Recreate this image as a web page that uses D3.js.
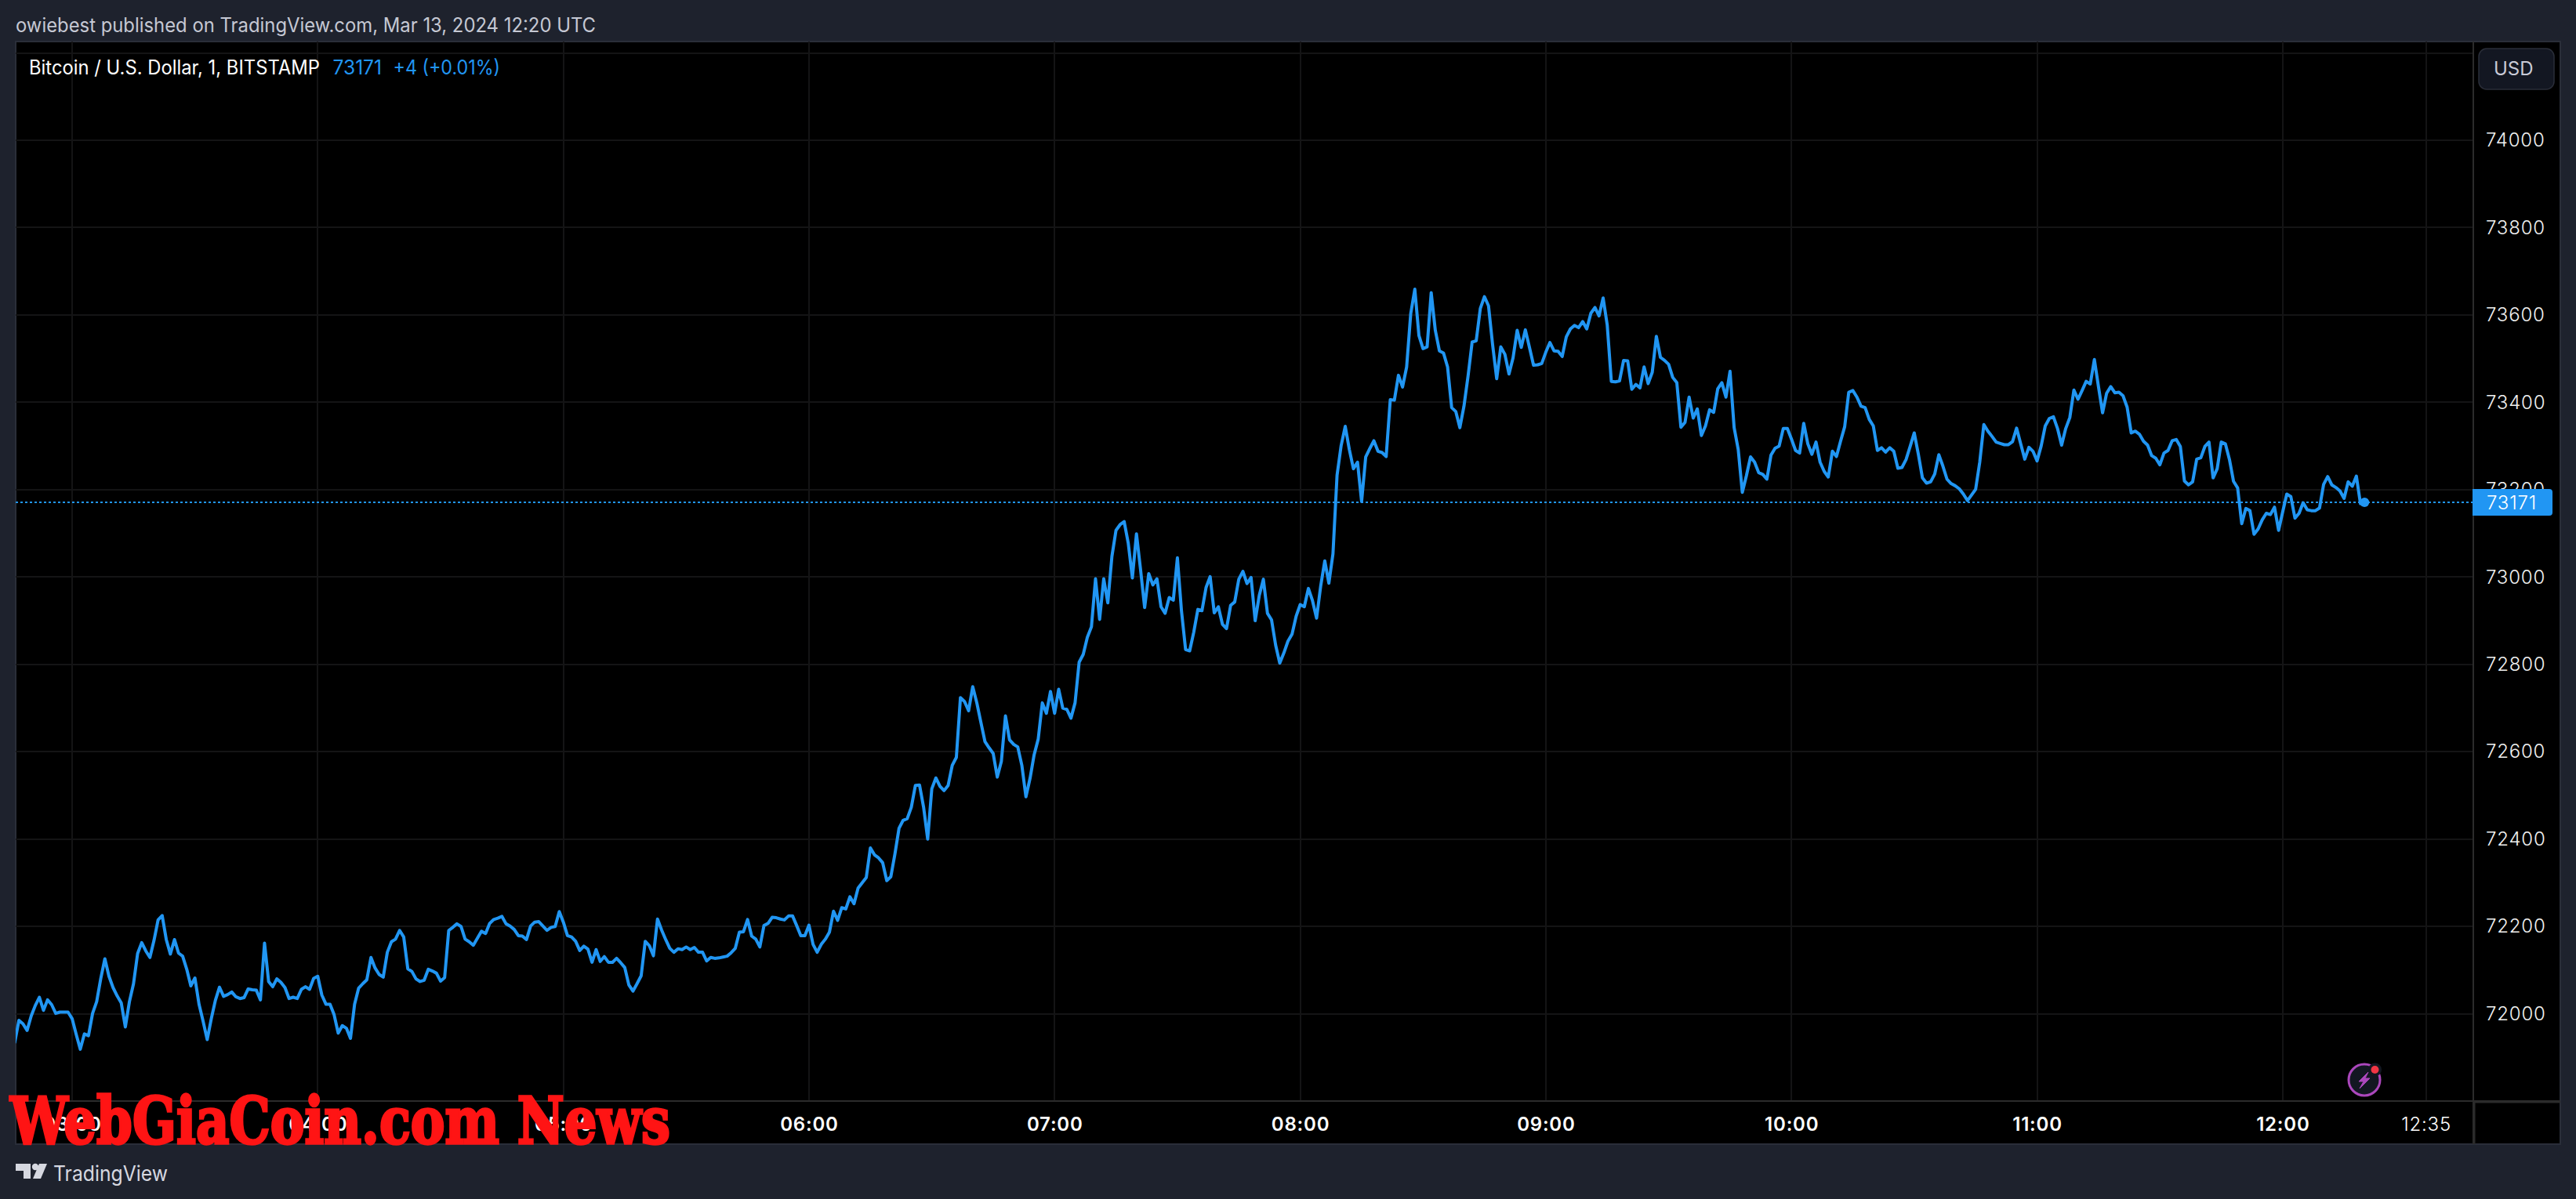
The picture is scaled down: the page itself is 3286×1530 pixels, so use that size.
<!DOCTYPE html>
<html>
<head>
<meta charset="utf-8">
<script src="https://cdn.jsdelivr.net/npm/d3@7"></script>
<style>
html,body{margin:0;padding:0;background:#1e222d;width:3286px;height:1530px;overflow:hidden}
svg{display:block}
text{font-family:Inter,"Open Sans",sans-serif}
</style>
</head>
<body>
<svg id="chart" width="3286" height="1530"></svg>
<script>
const symbolName = "Bitcoin / U.S. Dollar, 1, BITSTAMP";
const lastPriceLabel = "73171";
const changeLabel = "+4 (+0.01%)";
const publisherLine = "owiebest published on TradingView.com, Mar 13, 2024 12:20 UTC";
const seriesStart = "2024-03-13T02:46:00Z";
const priceLabels = [72000,72200,72400,72600,72800,73000,73200,73400,73600,73800,74000];
const priceGrid = [72000,72200,72400,72600,72800,73000,73200,73400,73600,73800,74000,74200];
const timeLabels = ["03:00","04:00","05:00","06:00","07:00","08:00","09:00","10:00","11:00","12:00"];
const cursorTime = "12:35";
// one close per minute, 02:46 to 12:20 UTC
const prices = [
71935,71985,71977,71962,71995,72019,72038,72008,72032,72021,72001,72004,72004,72004,
71989,71953,71919,71954,71950,72001,72028,72081,72126,72086,72060,72041,72025,71970,72028,72069,
72138,72163,72144,72129,72168,72215,72225,72170,72137,72170,72139,72132,72102,72064,72082,
72022,71983,71941,71989,72031,72061,72040,72044,72050,72039,72035,72037,72057,72055,72054,
72032,72162,72074,72062,72080,72072,72060,72035,72038,72035,72056,72062,72056,72081,
72086,72043,72022,72022,71998,71956,71973,71967,71944,72022,72059,72069,72078,72129,72105,
72090,72084,72141,72165,72171,72191,72176,72103,72097,72080,72074,72077,72102,72098,72093,
72075,72083,72191,72198,72206,72200,72171,72165,72157,72173,72189,72184,72207,72216,72219,
72223,72206,72201,72193,72179,72178,72170,72201,72210,72211,72201,72191,72198,72200,72234,
72210,72179,72176,72166,72145,72155,72148,72118,72147,72120,72131,72118,72118,72127,72117,
72106,72066,72052,72069,72087,72166,72156,72133,72217,72192,72170,72150,72141,72149,72147,
72153,72147,72152,72141,72141,72121,72129,72127,72128,72130,72132,72140,72150,72187,72188,
72216,72178,72171,72153,72202,72207,72221,72220,72217,72215,72224,72224,72202,72179,72179,
72203,72159,72141,72159,72171,72187,72235,72214,72243,72240,72268,72252,72288,72300,72312,
72380,72364,72357,72346,72305,72314,72366,72425,72443,72447,72473,72523,72524,72473,72400,
72515,72540,72521,72511,72523,72569,72587,72724,72715,72694,72749,72712,72667,72623,72609,
72596,72542,72578,72682,72627,72617,72611,72569,72497,72539,72593,72629,72712,72688,72738,
72688,72743,72700,72697,72677,72712,72805,72823,72862,72886,72996,72903,72996,72941,73047,
73107,73120,73127,73077,72998,73099,73017,72930,73008,72982,72996,72932,72917,72953,72947,
73044,72922,72834,72831,72874,72926,72923,72976,73001,72918,72932,72892,72882,72935,72943,
72995,73013,72985,72999,72900,72958,72995,72917,72902,72844,72803,72826,72853,72869,72910,
72937,72932,72974,72946,72906,72979,73037,72986,73053,73233,73301,73345,73292,73248,73263,
73173,73275,73294,73312,73288,73285,73276,73406,73405,73462,73435,73481,73603,73659,73553,
73523,73527,73651,73565,73518,73513,73481,73388,73379,73342,73391,73460,73538,73541,73615,
73642,73621,73532,73454,73527,73510,73465,73502,73565,73526,73566,73526,73485,73486,73489,
73515,73537,73518,73517,73505,73550,73568,73576,73571,73585,73568,73604,73617,73598,73639,
73577,73448,73447,73449,73496,73495,73430,73441,73433,73481,73443,73469,73551,73503,73496,
73487,73457,73445,73343,73354,73412,73364,73385,73324,73346,73383,73377,73431,73445,73412,
73471,73342,73292,73194,73232,73275,73263,73239,73235,73224,73279,73295,73300,73340,73340,
73316,73290,73284,73352,73305,73281,73309,73263,73242,73229,73288,73276,73311,73344,73423,
73427,73412,73391,73388,73361,73346,73290,73296,73286,73296,73288,73249,73251,73269,73299,
73330,73281,73227,73215,73218,73236,73280,73254,73224,73214,73209,73202,73190,73175,73188,
73201,73263,73349,73334,73322,73309,73306,73303,73303,73310,73341,73305,73270,73297,73288,
73266,73300,73346,73363,73367,73340,73302,73340,73365,73428,73407,73427,73448,73442,73498,
73436,73376,73421,73436,73422,73423,73415,73389,73330,73334,73327,73311,73302,73278,73272,
73257,73284,73290,73312,73315,73299,73220,73211,73218,73270,73273,73299,73309,73227,73248,
73309,73305,73269,73219,73204,73122,73157,73152,73098,73110,73131,73146,73143,73160,73107,
73149,73190,73184,73135,73146,73170,73154,73152,73152,73158,73212,73230,73211,73205,73197,
73180,73218,73208,73231,73168,73171
];

const day = "2024-03-13T";
const toDate = t => new Date(day + t + ":00Z");
const minute = 60000;
const startMs = new Date(seriesStart).getTime();
const points = prices.map((p,i)=>({t:new Date(startMs+i*minute),p}));

const pane = {left:20,top:53,right:3155,bottom:1404};
const outerRight = 3266, outerBottom = 1460;

const x = d3.scaleUtc().domain([toDate("03:00"),toDate("12:35")]).range([92,3094.6]);
const y = d3.scaleLinear().domain([72000,74000]).range([1293.7,179]);

const svg = d3.select("#chart");
svg.append("rect").attr("width",3286).attr("height",1530).attr("fill","#1e222d");
svg.append("rect").attr("x",pane.left).attr("y",pane.top)
   .attr("width",outerRight-pane.left).attr("height",outerBottom-pane.top)
   .attr("fill","#000").attr("stroke","#2a2e39").attr("stroke-width",2);

const defs = svg.append("defs");
defs.append("clipPath").attr("id","paneClip").append("rect")
   .attr("x",pane.left).attr("y",pane.top).attr("width",pane.right-pane.left).attr("height",pane.bottom-pane.top);

// grid
const gridColor = "#141415";
const allTimes = timeLabels.concat([cursorTime]);
svg.append("g").selectAll("line").data(allTimes).join("line")
   .attr("x1",d=>Math.round(x(toDate(d)))).attr("x2",d=>Math.round(x(toDate(d))))
   .attr("y1",pane.top).attr("y2",pane.bottom)
   .attr("stroke",gridColor).attr("stroke-width",2);
svg.append("g").selectAll("line").data(priceGrid).join("line")
   .attr("x1",pane.left).attr("x2",pane.right)
   .attr("y1",d=>Math.round(y(d))).attr("y2",d=>Math.round(y(d)))
   .attr("stroke",gridColor).attr("stroke-width",2);

// axis frames
const axisLine = "#2b2b2b";
svg.append("line").attr("x1",pane.right).attr("x2",pane.right).attr("y1",pane.top).attr("y2",pane.bottom+2).attr("stroke",axisLine).attr("stroke-width",2);
svg.append("line").attr("x1",pane.left).attr("x2",pane.right).attr("y1",pane.bottom+1).attr("y2",pane.bottom+1).attr("stroke",axisLine).attr("stroke-width",2);
svg.append("rect").attr("x",pane.right-1).attr("y",pane.bottom).attr("width",3.5).attr("height",outerBottom-pane.bottom).attr("fill",axisLine);
svg.append("rect").attr("x",pane.right).attr("y",pane.bottom).attr("width",outerRight-pane.right).attr("height",3.5).attr("fill",axisLine);

// price axis
const yAxis = d3.axisRight(y).tickValues(priceLabels).tickSize(0).tickPadding(16).tickFormat(d3.format("d"));
const yG = svg.append("g").attr("transform",`translate(${pane.right},0)`).call(yAxis);
yG.select(".domain").remove();
yG.selectAll("text").attr("fill","#f0f0f0").attr("font-size",24).attr("font-weight",300)
  .attr("letter-spacing",0.8).style("font-family","Inter");

// time axis
const xAxis = d3.axisBottom(x).tickValues(allTimes.map(toDate)).tickSize(0).tickPadding(0).tickFormat(d3.utcFormat("%H:%M"));
const xG = svg.append("g").attr("transform",`translate(0,${pane.bottom})`).call(xAxis);
xG.select(".domain").remove();
xG.selectAll("text").attr("dy",null).attr("y",30).attr("dominant-baseline","central")
  .attr("fill","#fff").attr("font-size",24)
  .attr("font-weight",d=>d3.utcFormat("%H:%M")(d)===cursorTime?300:600)
  .attr("letter-spacing",0.8).style("font-family","Inter");

// series
const line = d3.line().x(d=>x(d.t)).y(d=>y(d.p)).curve(d3.curveLinear);
const last = points[points.length-1];
const plot = svg.append("g").attr("clip-path","url(#paneClip)");
plot.append("line").attr("x1",pane.left).attr("x2",pane.right).attr("y1",y(last.p)).attr("y2",y(last.p))
   .attr("stroke","#2196f3").attr("stroke-width",2).attr("stroke-dasharray","3 3");
plot.append("path").datum(points).attr("d",line).attr("fill","none")
   .attr("stroke","#2196f3").attr("stroke-width",4).attr("stroke-linejoin","round").attr("stroke-linecap","round");
plot.append("circle").attr("cx",x(last.t)).attr("cy",y(last.p)).attr("r",6).attr("fill","#2196f3");

// last price tag
const tagY = y(last.p);
svg.append("path")
   .attr("d",`M${pane.right-1} ${tagY-17}H3252a4 4 0 0 1 4 4V${tagY+13}a4 4 0 0 1 -4 4H${pane.right-1}Z`)
   .attr("fill","#2196f3");
svg.append("text").attr("x",3172).attr("y",tagY).attr("dominant-baseline","central")
   .attr("fill","#fff").attr("font-size",24).attr("font-weight",300).attr("letter-spacing",0.8).text(lastPriceLabel);

// header and legend
svg.append("text").attr("x",20).attr("y",32).attr("dominant-baseline","central").attr("fill","#c5c8d3")
   .attr("font-size",25).attr("textLength",740).attr("lengthAdjust","spacingAndGlyphs").text(publisherLine);
svg.append("text").attr("x",37).attr("y",86).attr("dominant-baseline","central").attr("fill","#fff")
   .attr("font-size",25).attr("textLength",371).attr("lengthAdjust","spacingAndGlyphs").text(symbolName);
svg.append("text").attr("x",424.5).attr("y",86).attr("dominant-baseline","central").attr("fill","#2196f3")
   .attr("font-size",25).attr("textLength",62.5).attr("lengthAdjust","spacingAndGlyphs").text(lastPriceLabel);
svg.append("text").attr("x",501.5).attr("y",86).attr("dominant-baseline","central").attr("fill","#2196f3")
   .attr("font-size",25).attr("textLength",136.5).attr("lengthAdjust","spacingAndGlyphs").text(changeLabel);

// currency button
svg.append("rect").attr("x",3162).attr("y",62).attr("width",96).attr("height",52).attr("rx",10)
   .attr("fill","#131722").attr("stroke","#2a2e39").attr("stroke-width",1.5);
svg.append("text").attr("x",3181).attr("y",87).attr("dominant-baseline","central").attr("fill","#c8cad6")
   .attr("font-size",24).text("USD");

// lightning badge
const badge = svg.append("g").attr("transform","translate(3016,1378)");
badge.append("circle").attr("r",20).attr("fill","#131722").attr("stroke","#ab47bc").attr("stroke-width",3);
badge.append("path").attr("d","M5 -10 L-7 2 L-1 2 L-6 11 L7 -2 L1 -2 L5 -10Z").attr("fill","#ab47bc").attr("stroke","#ab47bc").attr("stroke-width",1).attr("stroke-linejoin","round");
badge.append("circle").attr("cx",13.5).attr("cy",-13).attr("r",8.5).attr("fill","#131722");
badge.append("circle").attr("cx",13.5).attr("cy",-13).attr("r",5).attr("fill","#f23645");

// footer logo
const logo = svg.append("g").attr("fill","#d6d8e0");
logo.append("path").attr("d","M20 1485H39V1504H30V1494H20Z");
logo.append("circle").attr("cx",45).attr("cy",1489).attr("r",4.2);
logo.append("path").attr("d","M50 1485H60L52 1504H42Z");
svg.append("text").attr("x",68).attr("y",1497).attr("dominant-baseline","central").attr("fill","#d6d8e0")
   .attr("font-size",27).attr("font-weight",400).attr("textLength",146).attr("lengthAdjust","spacingAndGlyphs").text("TradingView");

// watermark
svg.append("text").attr("x",13).attr("y",1459)
   .attr("fill","#ff1414").attr("stroke","#ff1414").attr("stroke-width",3.5)
   .attr("font-size",82).attr("font-weight",700)
   .attr("textLength",842).attr("lengthAdjust","spacingAndGlyphs")
   .style("font-family","'DejaVu Serif'").text("WebGiaCoin.com News");
</script>
</body>
</html>
